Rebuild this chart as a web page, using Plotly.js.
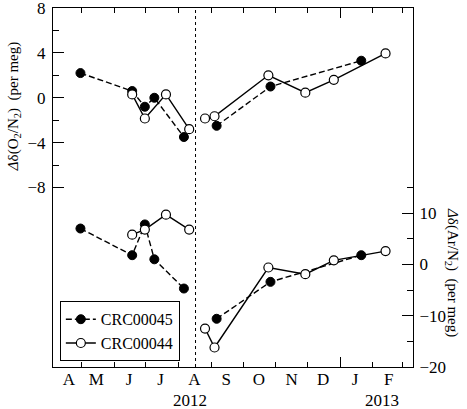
<!DOCTYPE html>
<html>
<head>
<meta charset="utf-8">
<script src="https://cdn.plot.ly/plotly-3.0.1.min.js"></script>
<style>
html,body{margin:0;padding:0;background:#fff;}
#chart{width:467px;height:409px;}
</style>
</head>
<body>
<div id="chart"></div>
<script>
// ---- data ----
// CRC00045 (filled circles, dashed line); null = break at the dotted divider
var datesA = ['2012-04-30','2012-06-18','2012-06-30','2012-07-09','2012-08-06','2012-08-17','2012-09-06','2012-10-27','2013-01-21'];
var o2A    = [2.2, 0.6, -0.8, 0.0, -3.5, null, -2.5, 1.0, 3.3];
var arA    = [7.0, 1.8, 7.8, 1.0, -4.7, null, -10.6, -3.4, 1.8];
// CRC00044 (open circles, solid line)
var datesB = ['2012-06-18','2012-06-30','2012-07-20','2012-08-11','2012-08-17','2012-08-26','2012-09-04','2012-10-25','2012-11-29','2012-12-26','2013-02-13'];
var o2B    = [0.3, -1.85, 0.3, -2.8, null, -1.85, -1.65, 2.0, 0.45, 1.6, 3.95];
var arB    = [5.8, 6.8, 9.7, 6.8, null, -12.5, -16.2, -0.6, -1.9, 0.8, 2.6];

var seriesNames = ['CRC00045', 'CRC00044'];
var monthLabels = ['A','M','J','J','A','S','O','N','D','J','F'];
var monthLabelDates = ['2012-04-19','2012-05-15','2012-06-15','2012-07-15','2012-08-16','2012-09-15','2012-10-16','2012-11-16','2012-12-16','2013-01-15','2013-02-16'];
var yearLabels = ['2012','2013'];
var yearLabelDates = ['2012-08-12','2013-02-10'];
var dividerDate = '2012-08-17';
var o2Ticks = [-8,-4,0,4,8];
var o2Minor = [-6,-2,2,6];
var arTicks = [-20,-10,0,10];
var arMinor = [-15,-5,5,15];
var xRange = ['2012-04-04','2013-03-11'];

var FONT = 'Liberation Serif';
var FS = 17;
var FS_TITLE = 15;

var dashA = '6px,3px';
var filledMarker = {symbol:'circle', size:9, color:'#000', line:{color:'#000', width:1}};
var openMarker = {symbol:'circle', size:9, color:'#fff', line:{color:'#000', width:1.2}};

var traces = [
  {x:datesA, y:o2A, xaxis:'x', yaxis:'y', mode:'lines+markers', name:seriesNames[0],
   line:{color:'#000', width:1.4, dash:dashA}, marker:filledMarker, connectgaps:false},
  {x:datesB, y:o2B, xaxis:'x', yaxis:'y', mode:'lines+markers', name:seriesNames[1],
   line:{color:'#000', width:1.4}, marker:openMarker, connectgaps:false},
  {x:datesA, y:arA, xaxis:'x', yaxis:'y2', mode:'lines+markers', name:seriesNames[0], showlegend:false,
   line:{color:'#000', width:1.4, dash:dashA}, marker:filledMarker, connectgaps:false},
  {x:datesB, y:arB, xaxis:'x', yaxis:'y2', mode:'lines+markers', name:seriesNames[1], showlegend:false,
   line:{color:'#000', width:1.4}, marker:openMarker, connectgaps:false},
  {x:[], y:[], xaxis:'x2', yaxis:'y', mode:'markers', showlegend:false, hoverinfo:'skip'},
  {x:[], y:[], xaxis:'x3', yaxis:'y', mode:'markers', showlegend:false, hoverinfo:'skip'}
];

var annotations = [];
for (var i=0;i<yearLabels.length;i++){
  annotations.push({xref:'x', yref:'paper', x:yearLabelDates[i], y:-0.092, text:yearLabels[i],
    showarrow:false, xanchor:'center', yanchor:'middle', font:{family:FONT, size:FS, color:'#000'}});
}
annotations.push({xref:'paper', yref:'paper', x:-0.108, y:0.724, textangle:-90, showarrow:false,
  xanchor:'center', yanchor:'middle',
  text:'<i>Δ</i>δ(O<sub>2</sub>/N<sub>2</sub>)\u00a0\u00a0(per meg)', font:{family:FONT, size:FS_TITLE, color:'#000'}});
annotations.push({xref:'paper', yref:'paper', x:1.108, y:0.262, textangle:90, showarrow:false,
  xanchor:'center', yanchor:'middle',
  text:'<i>Δ</i>δ(Ar/N<sub>2</sub>)\u00a0\u00a0(per meg)', font:{family:FONT, size:FS_TITLE, color:'#000'}});

var minorX = {tickmode:'linear', tick0:'2012-01-01', dtick:'M1', ticks:'inside', ticklen:5, tickcolor:'#000', tickwidth:1, showgrid:false};

var layout = {
  width:467, height:409,
  margin:{l:53, r:54, t:8, b:42},
  paper_bgcolor:'#fff', plot_bgcolor:'#fff',
  font:{family:FONT, size:FS, color:'#000'},
  showlegend:true,
  legend:{x:0.019, y:0.183, xanchor:'left', yanchor:'top', bgcolor:'#fff', bordercolor:'#000', borderwidth:1,
    font:{family:FONT, size:16, color:'#000'}, tracegroupgap:0, itemwidth:30},
  xaxis:{type:'date', range:xRange, showgrid:false, zeroline:false,
    showline:true, linecolor:'#000', linewidth:1, mirror:true,
    tickmode:'array', tickvals:['2013-01-01'], ticks:'inside', ticklen:10, tickcolor:'#000', tickwidth:1,
    showticklabels:false, minor:minorX},
  xaxis3:{type:'date', range:xRange, overlaying:'x', anchor:'y', side:'top', showgrid:false, zeroline:false,
    showline:false, tickmode:'array', tickvals:['2013-01-01'], ticks:'inside', ticklen:10, tickcolor:'#000', tickwidth:1,
    showticklabels:false, minor:minorX},
  xaxis2:{type:'date', range:xRange, overlaying:'x', anchor:'y', side:'bottom', showgrid:false, zeroline:false,
    showline:false, ticks:'', tickmode:'array', tickvals:monthLabelDates, ticktext:monthLabels,
    tickfont:{family:FONT, size:FS, color:'#000'}},
  yaxis:{range:[-24,8], showgrid:false, zeroline:false, showline:true, linecolor:'#000', linewidth:1, mirror:false,
    tickmode:'array', tickvals:o2Ticks, ticks:'inside', ticklen:11, tickcolor:'#000', tickwidth:1,
    ticklabelstandoff:3, ticklabeloverflow:'allow', tickfont:{family:FONT, size:FS, color:'#000'},
    minor:{tickmode:'array', tickvals:o2Minor, ticks:'inside', ticklen:6, tickcolor:'#000', tickwidth:1, showgrid:false}},
  yaxis2:{range:[-20,50], overlaying:'y', side:'right', anchor:'x', showgrid:false, zeroline:false,
    showline:true, linecolor:'#000', linewidth:1,
    tickmode:'array', tickvals:arTicks, ticks:'inside', ticklen:11, tickcolor:'#000', tickwidth:1,
    ticklabelstandoff:2, ticklabeloverflow:'allow', tickfont:{family:FONT, size:FS, color:'#000'},
    minor:{tickmode:'array', tickvals:arMinor, ticks:'inside', ticklen:6, tickcolor:'#000', tickwidth:1, showgrid:false}},
  shapes:[{type:'line', xref:'x', yref:'paper', x0:dividerDate, x1:dividerDate, y0:0, y1:1,
    line:{color:'#000', width:1, dash:'dot'}}],
  annotations:annotations
};

Plotly.newPlot('chart', traces, layout, {staticPlot:true, displayModeBar:false});
</script>
</body>
</html>
